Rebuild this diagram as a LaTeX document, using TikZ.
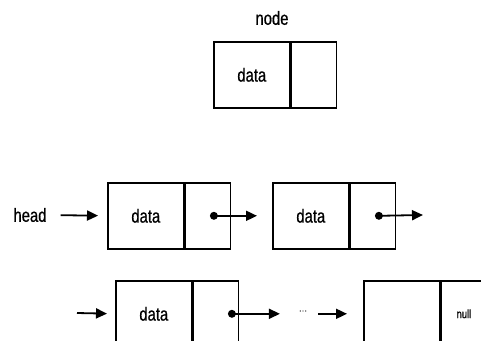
\documentclass[tikz,border=0pt]{standalone}
\usepackage{fontspec}
\setmainfont{Liberation Sans}[FakeStretch=0.78,FakeBold=0.6]
\usetikzlibrary{arrows.meta}
\tikzset{
  cell/.style={draw, line width=1.6pt, minimum height=66pt, inner sep=0pt,
               font=\fontsize{19}{21}\selectfont},
  dcell/.style={cell, minimum width=76pt},
  pcell/.style={cell, minimum width=45pt},
  lbl/.style={inner sep=0pt, font=\fontsize{19}{21}\selectfont},
  dot/.style={circle, fill, inner sep=0pt, minimum size=8pt},
  link/.style={line width=1.8pt, -{Triangle[length=11pt,width=10pt]}}
}
\begin{document}
\begin{tikzpicture}[x=1pt,y=-1pt]
\useasboundingbox (0,0) rectangle (481,340);
\clip (0,0) rectangle (481,340);

% single node layout
\node[lbl] (title) at (272,18) {node};
\node[dcell, anchor=north west] (t1) at (213,41) {data};
\node[pcell, anchor=west] (t2) at (t1.east) {};

% first row of the list
\node[lbl] (head) at (30,215) {head};
\node[dcell, anchor=north west] (a1) at (107,182) {data};
\node[pcell, anchor=west] (a2) at (a1.east) {};
\node[dcell, anchor=north west] (b1) at (272,182) {data};
\node[pcell, anchor=west] (b2) at (b1.east) {};
\node[dot] (ad) at ([xshift=6pt]a2.center) {};
\node[dot] (bd) at ([xshift=6pt]b2.center) {};
\coordinate (bend) at (423,215);

\draw[link, shorten <=14pt, shorten >=9pt] (head.east) -- (a1.west);
\draw[link, shorten >=15pt] (ad.center) -- (b1.west);
\draw[link] (bd.center) -- (bend);

% second row of the list
\coordinate (cin) at (77,313);
\node[dcell, anchor=north west] (c1) at (115,280) {data};
\node[pcell, anchor=west] (c2) at (c1.east) {};
\node[dot] (cd) at ([xshift=16pt]c2.center) {};
\node[inner sep=0pt, font=\fontsize{12}{14}\selectfont, text=black!60] (dots) at (303,311) {...};
\node[dcell, anchor=north west] (d1) at (363,280) {};
\node[pcell, anchor=west, font=\fontsize{12}{14}\selectfont] (d2) at (d1.east) {null};

\draw[link, shorten >=8pt] (cin) -- (c1.west);
\draw[link, shorten >=19pt] (cd.center) -- (dots.west |- cd.center);
\draw[link, shorten <=11pt, shorten >=16pt] (dots.east |- cd.center) -- (d1.west);
\end{tikzpicture}
\end{document}
